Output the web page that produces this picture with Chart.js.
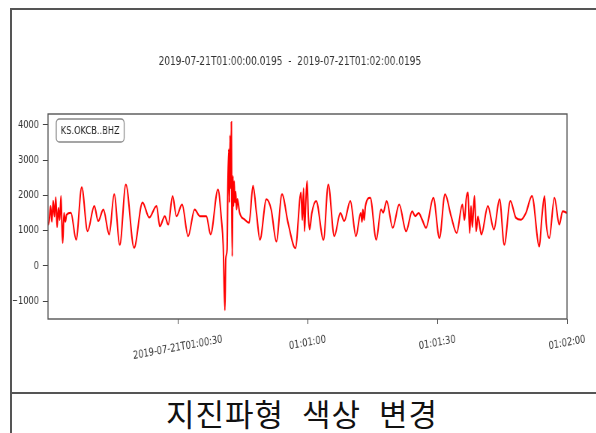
<!DOCTYPE html>
<html>
<head>
<meta charset="utf-8">
<script src="https://cdn.jsdelivr.net/npm/chart.js@4.4.1/dist/chart.umd.min.js"></script>
<style>
  body { margin: 0; width: 596px; height: 433px; overflow: hidden; background: #fff; position: relative; }
  #frame { position: absolute; left: 10px; top: 8px; width: 600px; height: 440px; border-left: 2px solid #555; border-top: 2px solid #555; }
  #sep { position: absolute; left: 10px; top: 392px; width: 600px; border-top: 2px solid #555; }
  #caption { position: absolute; left: 8px; right: 0; top: 390px; text-align: center; font: 31px "Noto Sans CJK KR", sans-serif; color: #111; letter-spacing: 1px; word-spacing: 10px; }
  /* the original figure is squeezed sideways, so the chart is drawn wide and narrowed */
  #wrap { position: absolute; left: 0; top: 0; width: 795px; height: 390px; transform: scaleX(0.75); transform-origin: 0 0; }
</style>
</head>
<body>
<div id="frame"></div>
<div id="sep"></div>
<div id="caption">지진파형 색상 변경</div>
<div id="wrap"><canvas id="myChart"></canvas></div>
<script>
// seconds after 2019-07-21T01:00:00.0195
const times = [0, 0.3, 0.6, 0.9, 1.2, 1.5, 1.8, 2.1, 2.4, 2.7, 3.0, 3.2, 3.4, 3.7, 4.0, 4.3,
  5.3, 6.5, 7.8, 9.15, 10.7, 11.6, 12.8, 14.15, 15.3, 16.6, 18.0, 19.9, 21.85, 23.4, 25.1,
  25.85, 27.0, 27.8, 28.8, 29.7, 31.0, 32.4, 33.9, 35.1, 36.6, 37.6, 39.3, 40.1, 40.5, 40.9,
  41.1, 41.4, 41.6, 41.8, 41.95, 42.1, 42.25, 42.4, 42.5, 42.6, 42.75, 42.9, 43.05, 43.2, 43.4,
  43.6, 43.8, 44.3, 45.5, 46.5, 47.4, 48.2, 49.0, 50.5, 51.6, 52.8, 54.1, 55.5, 57.2, 58.5,
  58.8, 59.1, 59.3, 59.6, 59.9, 60.2, 60.5, 61.0, 62.0, 63.7, 64.8, 66.2, 67.6, 68.5, 69.9,
  71.2, 72.3, 72.6, 72.8, 73.1, 73.4, 74.5, 75.9, 77.0, 77.5, 78.3, 79.7, 81.2, 82.8, 84.2,
  84.9, 85.7, 86.5, 87.4, 89.1, 90.5, 91.8, 93.2, 94.5, 95.8, 96.3, 96.7, 97.1, 97.5, 97.8,
  98.1, 98.6, 99.0, 99.4, 100.2, 101.7, 103.1, 104.4, 105.5, 106.9, 108.2, 109.4, 110.5, 111.9,
  113.6, 114.2, 114.8, 115.2, 115.9, 117.1, 118.2, 119.0, 120];
const counts = [1150, 1300, 1700, 1250, 1850, 1400, 1950, 1100, 1650, 1300, 1980, 1200, 650, 1500, 1250, 1450,
  1510, 740, 2230, 980, 1700, 1270, 1600, 890, 2030, 600, 2310, 510, 1800, 1370, 1700,
  1120, 1410, 1170, 1980, 1410, 1740, 840, 1600, 1410, 1410, 890, 2170, 1310, 600, -1260,
  200, 460, 2400, 3310, 1800, 3700, 2200, 4080, 1500, 270, 2550, 1700, 2400, 1800, 2100,
  1600, 1900, 1510, 1310, 1220, 2270, 1500, 740, 1890, 1600, 690, 2030, 1220, 500, 2080,
  1300, 2200, 980, 1800, 2410, 1400, 1030, 1500, 1840, 740, 2310, 840, 1500, 1270, 1840,
  840, 1500, 1250, 1600, 1300, 1700, 1930, 740, 1600, 1510, 1840, 1080, 1740, 980, 1550,
  1410, 1500, 1310, 1080, 1930, 790, 2030, 1410, 930, 1740, 1300, 1900, 2080, 930, 1700,
  1100, 1980, 980, 1400, 890, 1700, 1030, 1890, 600, 1840, 1360, 1310, 1500, 1980,
  550, 1400, 1980, 1200, 790, 1930, 1170, 1550, 1500];

const yTicks = [-1000, 0, 1000, 2000, 3000, 4000];
const xTicks = [30, 60, 90, 120];
const xTickLabels = ['2019-07-21T01:00:30', '01:01:00', '01:01:30', '01:02:00'];
const traceLabel = 'KS.OKCB..BHZ';
const titleText = '2019-07-21T01:00:00.0195  -  2019-07-21T01:02:00.0195';

const fam = '"DejaVu Sans", sans-serif';

// frame, legend box and the centred, slightly rotated x labels
const extras = {
  id: 'extras',
  afterDraw(chart) {
    const ctx = chart.ctx;
    const a = chart.chartArea;
    ctx.save();
    ctx.strokeStyle = '#555';
    ctx.lineWidth = 1.4;
    ctx.strokeRect(a.left, a.top, a.right - a.left, a.bottom - a.top);

    // legend
    ctx.font = '11px ' + fam;
    const w = ctx.measureText(traceLabel).width;
    const bx = a.left + 11, by = a.top + 5, bw = w + 12, bh = 23;
    ctx.beginPath();
    ctx.roundRect(bx, by, bw, bh, 4);
    ctx.fillStyle = 'rgba(255,255,255,0.85)';
    ctx.fill();
    ctx.strokeStyle = '#888';
    ctx.lineWidth = 1.3;
    ctx.stroke();
    ctx.fillStyle = '#222';
    ctx.textBaseline = 'middle';
    ctx.textAlign = 'left';
    ctx.fillText(traceLabel, bx + 6, by + bh / 2 + 0.5);

    // x tick labels
    const xs = chart.scales.x;
    const ang = 8 * Math.PI / 180;
    ctx.fillStyle = '#333';
    ctx.textAlign = 'center';
    xTicks.forEach((v, i) => {
      const px = xs.getPixelForValue(v);
      const lw = ctx.measureText(xTickLabels[i]).width;
      const bhgt = lw * Math.sin(ang) + 11 * Math.cos(ang);
      const cy = a.bottom + 15 + bhgt / 2;
      ctx.save();
      ctx.translate(px, cy);
      ctx.rotate(-ang);
      ctx.fillText(xTickLabels[i], 0, 0);
      ctx.restore();
    });
    ctx.restore();
  }
};

new Chart(document.getElementById('myChart'), {
  type: 'line',
  data: {
    datasets: [{
      label: traceLabel,
      data: times.map((t, i) => ({ x: t, y: counts[i] })),
      borderColor: '#ff0000',
      borderWidth: 2,
      pointRadius: 0,
      cubicInterpolationMode: 'monotone',
      fill: false
    }]
  },
  options: {
    responsive: true,
    maintainAspectRatio: false,
    animation: false,
    layout: { padding: { left: 17, right: 39, top: 0, bottom: 0 } },
    plugins: {
      legend: { display: false },
      tooltip: { enabled: false },
      title: {
        display: true,
        text: titleText,
        color: '#333',
        font: { family: fam, size: 12, weight: 'normal' },
        padding: { top: 55, bottom: 44.6 }
      }
    },
    scales: {
      x: {
        type: 'linear',
        min: 0,
        max: 120,
        afterBuildTicks: (s) => { s.ticks = xTicks.map(v => ({ value: v })); },
        afterFit: (s) => { s.height = 71; },
        ticks: { display: false },
        grid: { drawOnChartArea: false, drawTicks: true, tickLength: 5, color: '#444' },
        border: { display: false }
      },
      y: {
        min: -1510,
        max: 4310,
        afterBuildTicks: (s) => { s.ticks = yTicks.map(v => ({ value: v })); },
        afterFit: (s) => { s.width = 47; },
        ticks: {
          color: '#333',
          padding: 5,
          font: { family: fam, size: 11 },
          callback: (v) => (v < 0 ? '\u2212' + Math.abs(v) : String(v))
        },
        grid: { drawOnChartArea: false, drawTicks: true, tickLength: 7, color: '#444' },
        border: { display: false }
      }
    }
  },
  plugins: [extras]
});
</script>
</body>
</html>
